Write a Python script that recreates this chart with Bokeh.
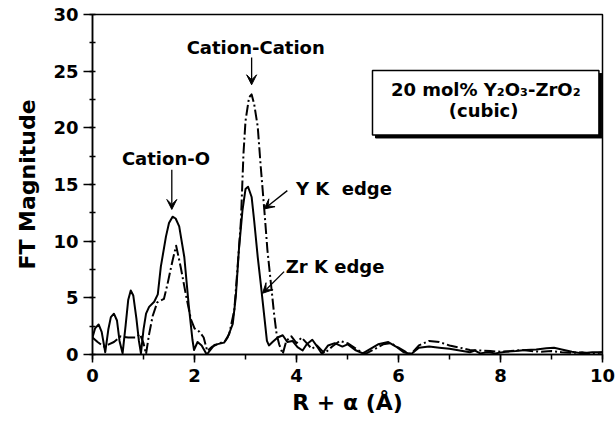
from bokeh.plotting import figure
from bokeh.models import (Range1d, SingleIntervalTicker, Label, Arrow, VeeHead)
from bokeh.embed import file_html
from bokeh.resources import INLINE

# ---- data ----
zr_r = [0.00, 0.05, 0.12, 0.18, 0.25, 0.31, 0.36, 0.42, 0.48, 0.53,
        0.59, 0.65, 0.70, 0.75, 0.80, 0.86, 0.91, 0.95, 1.00, 1.05,
        1.11, 1.21, 1.28, 1.34, 1.44, 1.50, 1.57, 1.63, 1.70, 1.80,
        1.89, 1.96, 1.99, 2.06, 2.14, 2.24, 2.39, 2.58, 2.65, 2.75,
        2.81, 2.87, 2.94, 3.00, 3.05, 3.12, 3.17, 3.24, 3.30, 3.37,
        3.42, 3.46, 3.53, 3.63, 3.73, 3.82, 3.92, 4.02, 4.12, 4.20,
        4.31, 4.42, 4.50, 4.62, 4.75, 4.90, 5.00, 5.15, 5.30, 5.45,
        5.60, 5.80, 5.95, 6.10, 6.25, 6.40, 6.60, 6.80, 7.00, 7.20,
        7.40, 7.50, 7.60, 7.75, 7.90, 8.10, 8.30, 8.50, 8.70, 8.90,
        9.05, 9.20, 9.40, 9.60, 9.80, 10.00]
zr_ft = [1.5, 2.3, 2.65, 2.0, 0.2, 2.2, 3.3, 3.6, 3.0, 1.2,
         0.1, 2.6, 4.8, 5.65, 5.2, 3.2, 1.2, 0.1, 2.2, 3.6,
         4.2, 4.65, 5.3, 7.75, 10.4, 11.6, 12.16, 12.0, 11.3, 8.6,
         4.2, 1.3, 0.4, 1.1, 0.8, 0.0, 0.85, 1.05, 1.5, 2.7,
         5.1, 9.2, 12.7, 14.6, 14.8, 13.9, 11.8, 8.6, 6.2, 3.3,
         1.2, 0.8, 1.1, 1.5, 1.7, 1.1, 1.2, 0.65, 0.35, 0.9,
         1.3, 0.6, 0.05, 0.8, 1.0, 0.7, 0.9, 0.4, 0.1, 0.5,
         0.9, 1.1, 0.7, 0.2, 0.05, 0.6, 0.7, 0.6, 0.5, 0.35,
         0.2, 0.35, 0.1, 0.2, 0.1, 0.25, 0.3, 0.4, 0.45, 0.55,
         0.6, 0.45, 0.25, 0.1, 0.2, 0.2]

y_r = [0.00, 0.10, 0.22, 0.32, 0.42, 0.55, 0.70, 0.85, 0.93, 1.00,
       1.05, 1.11, 1.18, 1.27, 1.40, 1.47, 1.57, 1.64, 1.73, 1.83,
       1.93, 2.00, 2.10, 2.18, 2.25, 2.35, 2.50, 2.60, 2.68, 2.78,
       2.84, 2.91, 2.96, 3.00, 3.07, 3.12, 3.17, 3.24, 3.30, 3.37,
       3.43, 3.50, 3.56, 3.61, 3.66, 3.73, 3.80, 3.90, 4.00, 4.10,
       4.20, 4.30, 4.40, 4.55, 4.70, 4.85, 5.00, 5.20, 5.35, 5.50,
       5.70, 5.85, 6.00, 6.15, 6.25, 6.40, 6.60, 6.80, 7.00, 7.20,
       7.40, 7.60, 7.80, 8.00, 8.20, 8.40, 8.60, 8.80, 9.00, 9.20,
       9.40, 9.60, 9.80, 10.00]
y_ft = [1.5, 1.1, 0.7, 0.9, 1.1, 1.6, 1.5, 1.5, 1.8, 1.0,
        0.05, 1.8, 3.4, 4.6, 4.9, 6.2, 8.3, 9.6, 7.7, 5.3,
        3.1, 2.3, 2.0, 1.5, 0.3, 0.7, 1.0, 1.2, 1.8, 3.9,
        7.4, 11.8, 17.7, 20.6, 22.7, 22.95, 22.1, 20.1, 16.5, 12.7,
        9.2, 6.2, 3.6, 1.8, 0.9, 0.05, 1.2, 1.6, 1.0, 1.5,
        1.0, 0.5, 0.8, 0.1, 0.7, 1.2, 1.0, 0.4, 0.05, 0.4,
        0.9, 1.0, 0.6, 0.2, 0.05, 0.8, 1.2, 1.1, 0.8, 0.6,
        0.4, 0.35, 0.3, 0.25, 0.3, 0.4, 0.3, 0.25, 0.3, 0.2,
        0.15, 0.2, 0.05, 0.2]

x_title = "R + \u03b1 (\u00c5)"
y_title = "FT Magnitude"
sample_line1 = "20 mol% Y\u2082O\u2083-ZrO\u2082"
sample_line2 = "(cubic)"

FONT = "DejaVu Sans"

p = figure(width=616, height=425, output_backend="svg", toolbar_location=None,
           x_range=Range1d(0, 10), y_range=Range1d(0, 30),
           min_border_left=92, min_border_right=14, min_border_top=14,
           min_border_bottom=71)
p.background_fill_color = "white"
p.border_fill_color = "white"
p.outline_line_color = "black"
p.outline_line_width = 1.5
p.grid.visible = False

p.line(y_r, y_ft, line_color="black", line_width=2, line_dash="11 3 2 3",
       line_join="round")
p.line(zr_r, zr_ft, line_color="black", line_width=2, line_join="round",
       line_cap="round")

# axes
p.xaxis.ticker = SingleIntervalTicker(interval=2, num_minor_ticks=2)
p.yaxis.ticker = SingleIntervalTicker(interval=5, num_minor_ticks=2)
for ax in (p.xaxis[0], p.yaxis[0]):
    ax.axis_line_width = 1.5
    ax.major_tick_line_width = 1.5
    ax.minor_tick_line_width = 1.5
    ax.major_label_text_font = FONT
    ax.major_label_text_font_style = "bold"
    ax.major_label_text_font_size = "18px"
    ax.major_label_text_color = "black"
    ax.axis_label_text_font = FONT
    ax.axis_label_text_font_style = "bold"
    ax.axis_label_text_font_size = "22px"
    ax.axis_label_text_color = "black"
p.yaxis.major_tick_out = 9
p.yaxis.major_tick_in = 0
p.yaxis.minor_tick_out = 3
p.yaxis.minor_tick_in = 3
p.xaxis.major_tick_out = 8
p.xaxis.major_tick_in = 0
p.xaxis.minor_tick_out = 5
p.xaxis.minor_tick_in = 0
p.xaxis.axis_label = x_title
p.yaxis.axis_label = y_title
p.xaxis.major_label_standoff = 6
p.yaxis.major_label_standoff = 5
p.xaxis.axis_label_standoff = 5
p.yaxis.axis_label_standoff = 10

def lbl(x, y, t, align="center", size="18px"):
    p.add_layout(Label(x=x, y=y, text=t, text_align=align,
                       text_baseline="middle", text_font=FONT,
                       text_font_style="bold", text_font_size=size,
                       text_color="black"))

def arr(x0, y0, x1, y1):
    p.add_layout(Arrow(end=VeeHead(size=10, fill_color="black",
                                   line_color="black", line_width=1),
                       x_start=x0, y_start=y0, x_end=x1, y_end=y1,
                       line_color="black", line_width=1.3))

lbl(3.20, 27.05, "Cation-Cation")
arr(3.12, 26.2, 3.12, 23.8)
lbl(1.44, 17.33, "Cation-O")
arr(1.555, 16.3, 1.555, 12.8)
lbl(3.99, 14.67, "Y K\u00a0 edge", align="left")
arr(3.82, 14.46, 3.365, 12.84)
lbl(3.79, 7.75, "Zr K edge", align="left")
arr(3.757, 7.31, 3.333, 5.40)

# sample box with shadow
bx0, bx1, by0, by1 = 5.49, 9.93, 19.37, 25.05
dx, dy = 3 / 51, 3 / 11.33
p.quad(left=bx0 + dx, right=bx1 + dx, bottom=by0 - dy, top=by1 - dy,
       fill_color="black", line_color="black")
p.quad(left=bx0, right=bx1, bottom=by0, top=by1, fill_color="white",
       line_color="black", line_width=1.5)
lbl(7.71, 23.34, sample_line1, size="18px")
lbl(7.67, 21.49, sample_line2, size="18px")

open("out.html", "w").write(file_html(p, INLINE))
